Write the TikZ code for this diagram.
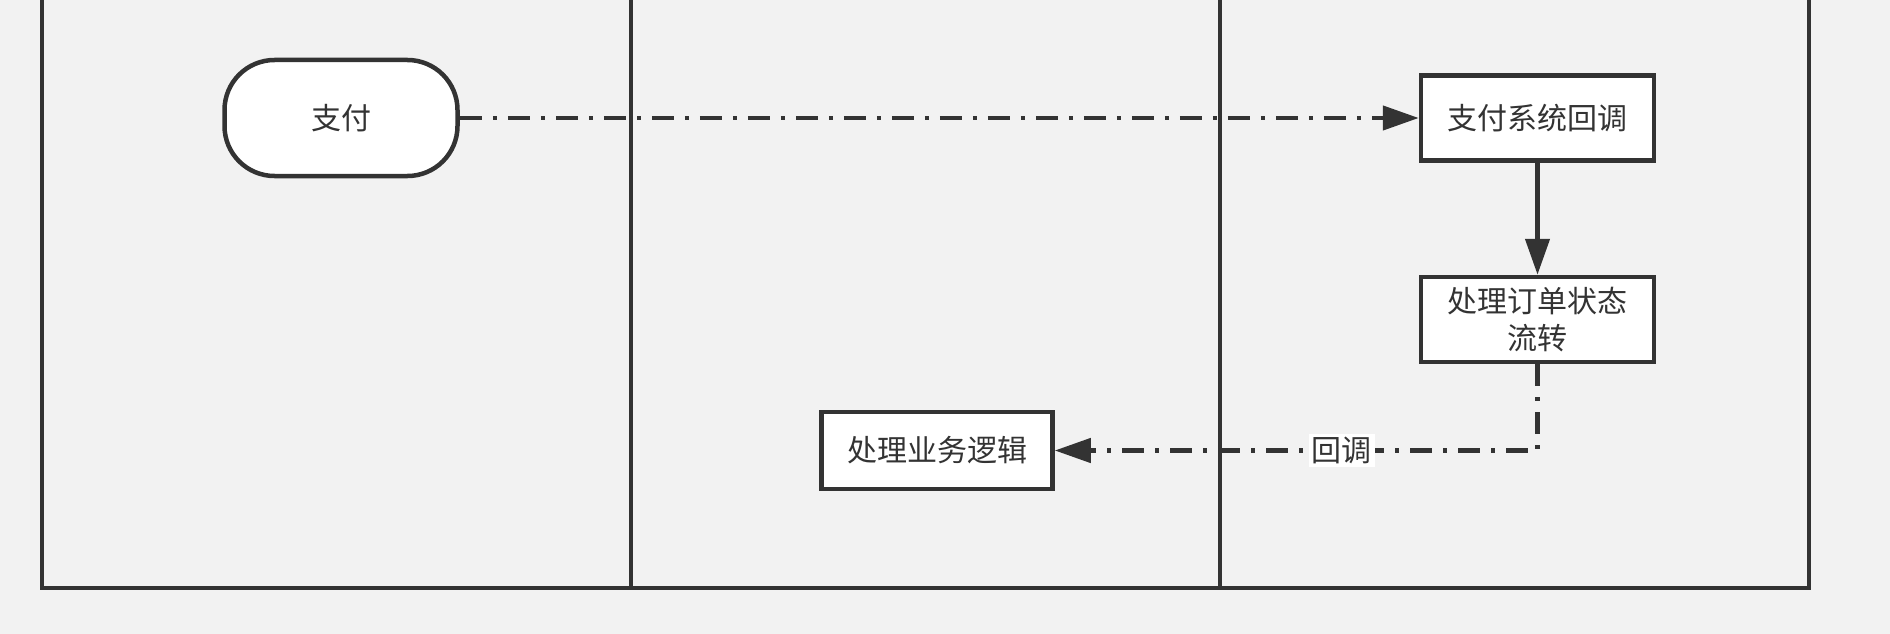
\documentclass[tikz,border=0pt]{standalone}
\usepackage{fontspec}
\setmainfont{Noto Sans CJK SC}
\usetikzlibrary{arrows.meta}
\definecolor{bg}{HTML}{F2F2F2}
\definecolor{ink}{HTML}{333333}
\tikzset{
  lane/.style={draw=ink, line width=4.5pt, line join=miter},
  boxnode/.style={draw=ink, fill=white, line width=4.5pt, inner sep=0pt, text=ink,
    font=\fontsize{30pt}{37pt}\selectfont, align=center},
  flowsolid/.style={draw=ink, line width=4.5pt, -{Triangle[length=36pt,width=24pt]}},
  flowdash/.style={draw=ink, line width=4.5pt, dash pattern=on 22pt off 11pt on 4pt off 11pt,
    -{Triangle[length=36pt,width=24pt]}},
  lbl/.style={fill=white, text=ink, inner sep=3pt, font=\fontsize{30pt}{37pt}\selectfont}
}
\begin{document}
\begin{tikzpicture}[x=1pt,y=-1pt]
\fill[bg] (0,0) rectangle (1890,634);
\useasboundingbox (0,0) rectangle (1890,634);
% swimlanes
\coordinate (l0t) at (42,-5);
\coordinate (l0b) at (42,588);
\coordinate (l3b) at (1809,588);
\coordinate (l3t) at (1809,-5);
\coordinate (l1t) at (631,-5);
\coordinate (l1b) at (631,588);
\coordinate (l2t) at (1220,-5);
\coordinate (l2b) at (1220,588);
\draw[lane] (l0t) -- (l0b) -- (l3b) -- (l3t);
\draw[lane] (l1t) -- (l1b);
\draw[lane] (l2t) -- (l2b);
% nodes
\node[boxnode, rounded corners=50pt, minimum width=233pt, minimum height=116pt] (pay) at (341,118) {支付};
\node[boxnode, minimum width=233pt, minimum height=85pt] (cb) at (1537.5,118) {支付系统回调};
\node[boxnode, minimum width=233pt, minimum height=85pt] (order) at (1537.5,319.5) {处理订单状态\\流转};
\node[boxnode, minimum width=231pt, minimum height=77pt] (biz) at (937,450.5) {处理业务逻辑};
% connectors
\draw[flowdash] (pay.east) -- (cb.west);
\draw[flowsolid] (cb.south) -- (order.north);
\draw[flowdash] (order.south) |- node[lbl, pos=0.703] {回调} (biz.east);
\end{tikzpicture}
\end{document}
